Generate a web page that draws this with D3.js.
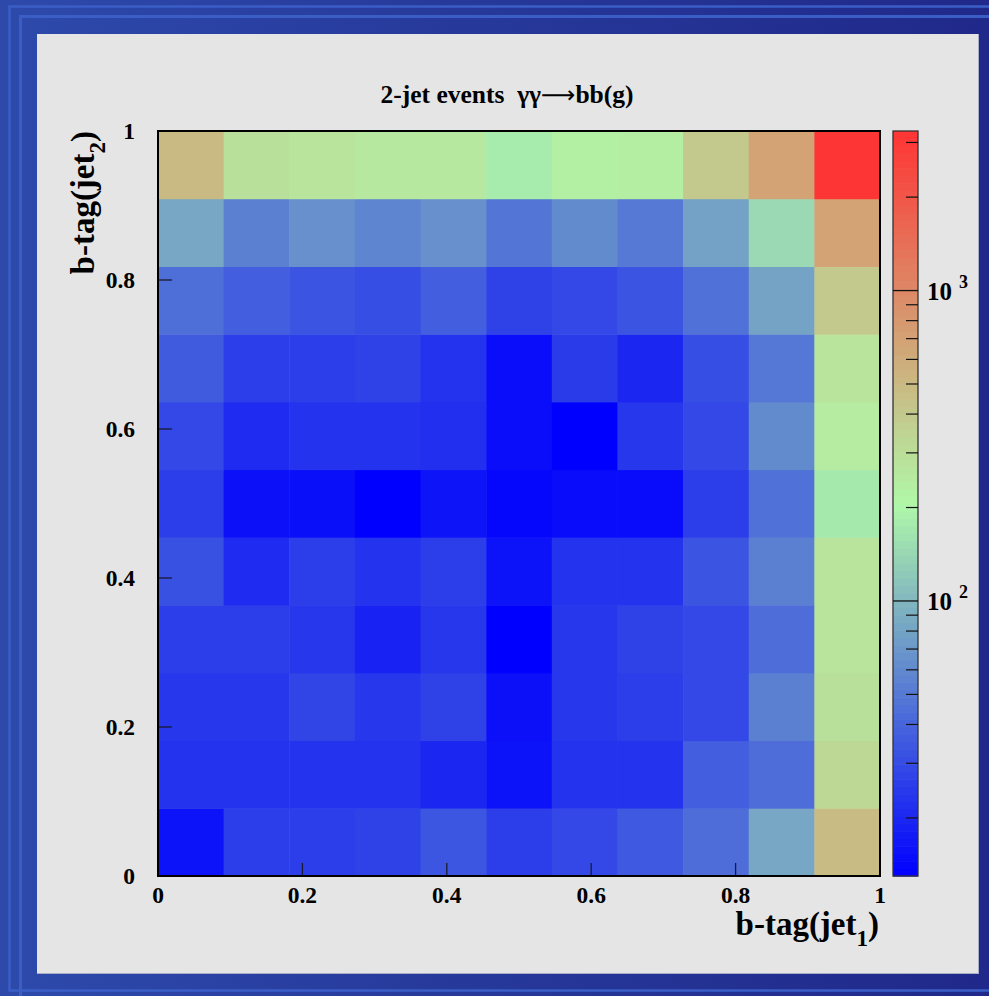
<!DOCTYPE html>
<html><head><meta charset="utf-8">
<script src="https://cdn.jsdelivr.net/npm/d3@7"></script>
<style>html,body{margin:0;padding:0;background:#20288a;} svg{display:block}</style>
</head><body>
<svg id="c" width="989" height="996"></svg>
<script>
// ---------------- data ----------------
const titleStart = "2-jet events\u00a0\u00a0\u03b3\u03b3";
const titleArrow = "\u27f6";
const titleEnd = "bb(g)";
const xTitle = "b-tag(jet";
const xTitleSub = "1";
const yTitle = "b-tag(jet";
const yTitleSub = "2";
const xTickValues = [0, 0.2, 0.4, 0.6, 0.8, 1];
const xTickLabels = ["0", "0.2", "0.4", "0.6", "0.8", "1"];
const yTickValues = [0, 0.2, 0.4, 0.6, 0.8, 1];
const yTickLabels = ["0", "0.2", "0.4", "0.6", "0.8", "1"];
const nBinsX = 11;
const nBinsY = 11;
const zRange = [13, 3266];
const zMajorTicks = [100, 1000];
const zMajorExponents = ["2", "3"];
const zMinorTicks = [20, 30, 40, 50, 60, 70, 80, 90, 200, 300, 400, 500, 600, 700, 800, 900, 2000, 3000];
const paletteStops = ["#0000ff", "#b0f8a8", "#ff3434"];

// bin contents, one array per row of b-tag(jet2), bottom row first, columns b-tag(jet1) low -> high
const row00 = [16, 26, 26, 27, 34, 26, 29, 35, 44, 84, 480];
const row01 = [23, 23, 23, 23, 20, 16, 23, 23, 37, 44, 330];
const row02 = [24, 24, 28, 24, 27, 15.6, 24, 26, 29, 54, 287];
const row03 = [26, 26, 24, 19, 24, 13, 24, 27, 29, 44, 272];
const row04 = [32, 21, 26, 23, 26, 16, 23, 23, 33, 54, 272];
const row05 = [26, 15.6, 15.3, 13, 16.2, 14.1, 14.8, 14.8, 26, 46, 175];
const row06 = [29, 21, 23, 23, 22, 15, 13, 24, 29, 61, 245];
const row07 = [36, 26, 26, 27, 23, 15, 25, 20, 31, 49, 272];
const row08 = [45, 37, 33, 31, 37, 27, 29, 33, 46, 80, 400];
const row09 = [84, 54, 65, 57, 65, 48, 61, 50, 79, 146, 695];
const row10 = [499, 287, 272, 257, 257, 178, 230, 237, 400, 695, 3200];
const rows = [row00, row01, row02, row03, row04, row05, row06, row07, row08, row09, row10];

// ---------------- drawing ----------------
const svg = d3.select("#c");
const W = 989, H = 996;
const serif = "'Liberation Serif','DejaVu Serif',serif";

// background
const defs = svg.append("defs");
const g1 = defs.append("linearGradient").attr("id", "bg").attr("x1", "0").attr("x2", "1").attr("y1", "0").attr("y2", "0");
g1.append("stop").attr("offset", "0").attr("stop-color", "#2d4aab");
g1.append("stop").attr("offset", "0.5").attr("stop-color", "#26389a");
g1.append("stop").attr("offset", "1").attr("stop-color", "#20298a");
svg.append("rect").attr("x", 0).attr("y", 0).attr("width", W).attr("height", H).attr("fill", "url(#bg)");
svg.append("rect").attr("x", 9.5).attr("y", 6.5).attr("width", W + 20).attr("height", 984).attr("fill", "none").attr("stroke", "#3a5ec6").attr("stroke-width", 2.5);
svg.append("rect").attr("x", 20.5).attr("y", 16.5).attr("width", W + 20).attr("height", H + 20).attr("fill", "none").attr("stroke", "#3a5ec6").attr("stroke-width", 3);
// panel
svg.append("rect").attr("x", 37).attr("y", 34).attr("width", 941).attr("height", 939).attr("fill", "#e5e5e5");
svg.append("line").attr("x1", 978.5).attr("x2", 978.5).attr("y1", 34).attr("y2", 974).attr("stroke", "#a8acc8").attr("stroke-width", 1);
svg.append("line").attr("x1", 37).attr("x2", 979).attr("y1", 973.5).attr("y2", 973.5).attr("stroke", "#a8acc8").attr("stroke-width", 1);

// scales
const x = d3.scaleLinear().domain([0, 1]).range([158, 880]);
const y = d3.scaleLinear().domain([0, 1]).range([876, 131]);
const z = d3.scaleLog().domain(zRange).range([0, 1]).clamp(true);
const palette = d3.piecewise(d3.interpolateRgb, paletteStops);
const color = v => palette(z(v));

// cells
const cells = [];
rows.forEach((r, j) => r.forEach((v, i) => cells.push({i, j, v})));
svg.append("g").selectAll("rect").data(cells).join("rect")
  .attr("x", d => x(d.i / nBinsX))
  .attr("y", d => y((d.j + 1) / nBinsY))
  .attr("width", d => x((d.i + 1) / nBinsX) - x(d.i / nBinsX) + 0.5)
  .attr("height", d => y(d.j / nBinsY) - y((d.j + 1) / nBinsY) + 0.5)
  .attr("fill", d => color(d.v));

// axes ticks
const tickCol = "#1a1a30";
svg.append("g").selectAll("line").data(xTickValues).join("line")
  .attr("x1", d => x(d)).attr("x2", d => x(d)).attr("y1", 876).attr("y2", 863)
  .attr("stroke", tickCol).attr("stroke-width", 1.3);
svg.append("g").selectAll("line").data(yTickValues).join("line")
  .attr("y1", d => y(d)).attr("y2", d => y(d)).attr("x1", 158).attr("x2", 172)
  .attr("stroke", tickCol).attr("stroke-width", 1.3);
// frame
svg.append("rect").attr("x", 158).attr("y", 131).attr("width", 722).attr("height", 745)
  .attr("fill", "none").attr("stroke", "#000").attr("stroke-width", 2);

// tick labels
svg.append("g").selectAll("text").data(xTickValues).join("text")
  .attr("x", d => x(d)).attr("y", 903).attr("text-anchor", "middle")
  .attr("font-family", serif).attr("font-weight", "bold").attr("font-size", 23.5).attr("fill", "#000")
  .text((d, k) => xTickLabels[k]);
svg.append("g").selectAll("text").data(yTickValues).join("text")
  .attr("x", 135).attr("y", d => y(d) + 7.5).attr("text-anchor", "end")
  .attr("font-family", serif).attr("font-weight", "bold").attr("font-size", 23.5).attr("fill", "#000")
  .text((d, k) => yTickLabels[k]);

// title
const tt = svg.append("text").attr("x", 507).attr("y", 103).attr("text-anchor", "middle")
  .attr("font-family", serif).attr("font-weight", "bold").attr("font-size", 25.5).attr("fill", "#000");
tt.append("tspan").text(titleStart);
tt.append("tspan").attr("font-family", "'DejaVu Sans',sans-serif").attr("font-weight", "normal").attr("font-size", 24).text(titleArrow);
tt.append("tspan").text(titleEnd);

// x title
const xt = svg.append("text").attr("x", 879).attr("y", 935).attr("text-anchor", "end")
  .attr("font-family", serif).attr("font-weight", "bold").attr("font-size", 33).attr("fill", "#000");
xt.append("tspan").text(xTitle);
xt.append("tspan").attr("dy", 11).attr("font-size", 23).text(xTitleSub);
xt.append("tspan").attr("dy", -11).text(")");

// y title
const yt = svg.append("text").attr("transform", "translate(94,131) rotate(-90)").attr("text-anchor", "end")
  .attr("font-family", serif).attr("font-weight", "bold").attr("font-size", 33).attr("fill", "#000");
yt.append("tspan").text(yTitle);
yt.append("tspan").attr("dy", 11).attr("font-size", 23).text(yTitleSub);
yt.append("tspan").attr("dy", -11).text(")");

// colour bar
const zy = d3.scaleLog().domain(zRange).range([876, 131]);
const nBands = 100;
const bands = d3.range(nBands).map(k => k);
const cbX = 893, cbW = 25;
svg.append("g").selectAll("rect").data(bands).join("rect")
  .attr("x", cbX).attr("width", cbW)
  .attr("y", k => 876 - (k + 1) * 745 / nBands)
  .attr("height", 745 / nBands + 0.6)
  .attr("fill", k => palette((k + 0.5) / nBands));
svg.append("rect").attr("x", cbX).attr("y", 131).attr("width", cbW).attr("height", 745)
  .attr("fill", "none").attr("stroke", "#333").attr("stroke-width", 1.3);
svg.append("g").selectAll("line").data(zMinorTicks).join("line")
  .attr("x1", cbX + cbW - 12).attr("x2", cbX + cbW).attr("y1", d => zy(d)).attr("y2", d => zy(d))
  .attr("stroke", "#111").attr("stroke-width", 1.2);
svg.append("g").selectAll("line").data(zMajorTicks).join("line")
  .attr("x1", cbX).attr("x2", cbX + cbW).attr("y1", d => zy(d)).attr("y2", d => zy(d))
  .attr("stroke", "#111").attr("stroke-width", 1.3);
const zl = svg.append("g").selectAll("text").data(zMajorTicks).join("text")
  .attr("x", 927).attr("y", d => zy(d) + 9)
  .attr("font-family", serif).attr("font-weight", "bold").attr("font-size", 25).attr("fill", "#000");
zl.append("tspan").text("10");
zl.append("tspan").attr("dx", 7).attr("dy", -12).attr("font-size", 18).text((d, k) => zMajorExponents[k]);
</script>
</body></html>
